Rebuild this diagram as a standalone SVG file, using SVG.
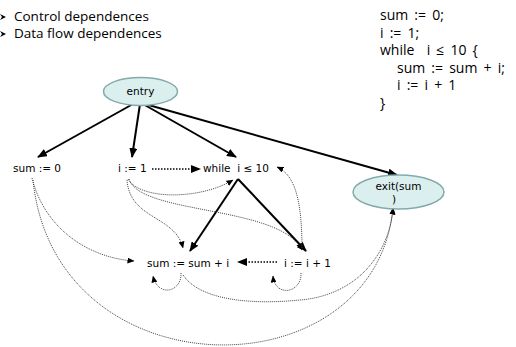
<svg xmlns="http://www.w3.org/2000/svg" width="516" height="347" viewBox="0 0 516 347">
<defs>
<marker id="ah" markerUnits="userSpaceOnUse" markerWidth="10" markerHeight="8" refX="9" refY="4" orient="auto"><path d="M0,0 L10,4 L0,8 Z" fill="#000"/></marker>
<marker id="dh" markerUnits="userSpaceOnUse" markerWidth="7" markerHeight="6" refX="6.5" refY="3" orient="auto"><path d="M0,0 L7,3 L0,6 Z" fill="#000"/></marker>
</defs>
<style>
.leg{font-family:"Open Sans","Noto Sans",sans-serif;font-size:13.5px;fill:#000}
.code{font-family:"Open Sans","Noto Sans",sans-serif;font-size:14px;word-spacing:2.5px;fill:#000}
.nt{font-family:"DejaVu Sans",Verdana,sans-serif;font-size:10.5px;fill:#000}
.ell{fill:#dcefef;stroke:#84abab;stroke-width:1.5}
.ctl{stroke:#000;stroke-width:2;fill:none;marker-end:url(#ah)}
.dat{stroke:#444;stroke-width:1;stroke-dasharray:1 1;fill:none;marker-end:url(#dh)}
.datb{stroke:#000;stroke-width:1.5;stroke-dasharray:1.5 1.5;fill:none;marker-end:url(#ah)}
</style>
<g id="legend">
<path d="M0,14 L6,17 L0,20 L2,17 Z" fill="#000"/>
<text class="leg" x="14" y="21">Control dependences</text>
<path d="M0,31 L6,34 L0,37 L2,34 Z" fill="#000"/>
<text class="leg" x="14" y="38">Data flow dependences</text>
</g>
<g id="code">
<text class="code" x="380" y="20">sum := 0;</text>
<text class="code" x="380" y="37.5">i := 1;</text>
<text class="code" x="380" y="55" xml:space="preserve">while  i ≤ 10 {</text>
<text class="code" x="397" y="72.5">sum := sum + i;</text>
<text class="code" x="397" y="90">i := i + 1</text>
<text class="code" x="380" y="107.5">}</text>
</g>
<g id="connectors">
<path class="ctl" d="M133,104 L38,157"/>
<path class="ctl" d="M140,104 L132,157"/>
<path class="ctl" d="M143,104 L236,157"/>
<path class="ctl" d="M145,104 L397,175"/>
<path class="ctl" d="M238,179 L190,251"/>
<path class="ctl" d="M238,179 L306,251"/>
<path class="datb" d="M152,169 L200,169"/>
<path class="datb" d="M277,262 L238,262"/>
<path class="dat" d="M128,179 C140,200 200,200 233,180"/>
<path class="dat" d="M129,179 C140,215 280,205 302,250"/>
<path class="dat" d="M127,180 C130,220 175,215 183,248"/>
<path class="dat" d="M32,178 C45,230 90,258 134,261"/>
<path class="dat" d="M33,180 C55,395 375,395 393,208"/>
<path class="dat" d="M183,275 C200,300 250,305 300,300 C360,295 390,250 393,208"/>
<path class="dat" d="M181,273 C182,292 158,298 153,276"/>
<path class="dat" d="M301,273 C302,293 275,298 273,276"/>
<path class="dat" d="M302,250 C302,200 295,175 277,167"/>
</g>
<g id="entry">
<ellipse class="ell" cx="140.5" cy="91.5" rx="37" ry="14"/>
<text class="nt" x="140.5" y="95" text-anchor="middle">entry</text>
</g>
<g id="sum0"><text class="nt" x="13" y="172">sum := 0</text></g>
<g id="i1"><text class="nt" x="118" y="172">i := 1</text></g>
<g id="while"><text class="nt" x="203" y="172" xml:space="preserve">while  i ≤ 10</text></g>
<g id="exit">
<ellipse class="ell" cx="398.5" cy="192" rx="45.5" ry="17"/>
<text class="nt" x="398.5" y="190" text-anchor="middle">exit(sum</text>
<text class="nt" x="394" y="203" text-anchor="middle">)</text>
</g>
<g id="sumsum"><text class="nt" x="147" y="267">sum := sum + i</text></g>
<g id="ii1"><text class="nt" x="284" y="267">i := i + 1</text></g>
</svg>
